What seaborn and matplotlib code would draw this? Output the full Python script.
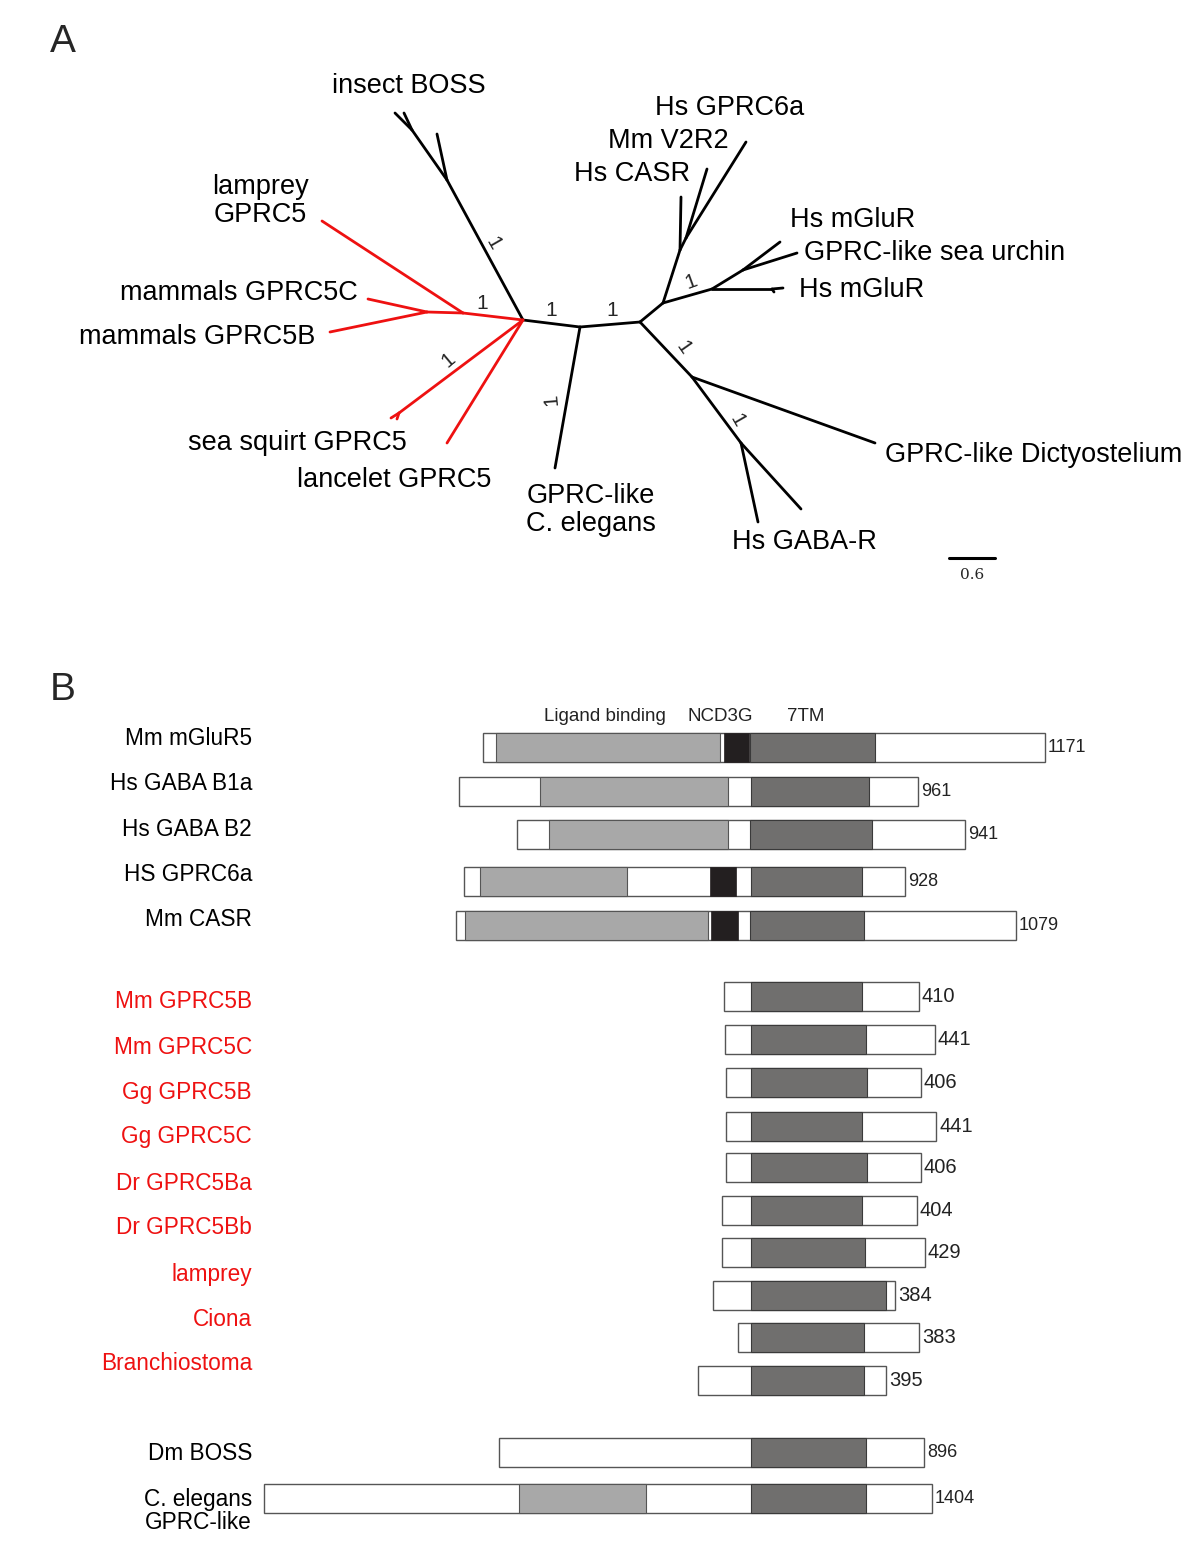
import pandas as pd
import seaborn as sns
import matplotlib
matplotlib.use("Agg")
import matplotlib.pyplot as plt

sns.set_theme(style="white")
plt.rcParams['font.family'] = ['Liberation Sans', 'DejaVu Sans']

RED = "#ee1111"
LIGHT = "#a8a8a8"
DARK = "#706f6e"
NCD = "#231f20"

# ---------------- panel A: tree layout (schematic units) ----------------
node_names = ["c0", "boss1", "boss2", "t_boss1", "t_boss2", "t_boss3",
              "r1", "r2", "t_lamprey", "t_5c", "t_5b",
              "t_squirt", "sq_a", "sq_b", "t_lancelet",
              "b1", "t_cel", "b2",
              "g1", "t_dicty", "g2", "t_gaba1", "t_gaba2",
              "m1", "m2", "t_casr", "m3", "t_v2r2", "t_6a",
              "m4", "m6", "t_mglu_low", "t_mglu_low2", "m5", "t_mglu_up", "t_urchin"]
node_x = [523, 447, 412, 395, 404, 437,
          463, 427, 322, 368, 330,
          399, 391, 397, 447,
          580, 555, 640,
          692, 875, 741, 758, 801,
          663, 680, 681, 686, 707, 746,
          712, 772, 783, 774, 743, 780, 797]
node_y = [320, 180, 130, 113, 113, 134,
          313, 312, 221, 299, 332,
          413, 418, 419, 443,
          327, 468, 322,
          377, 443, 443, 522, 509,
          303, 250, 197, 238, 169, 142,
          289, 289, 288, 292, 270, 242, 253]

edges = [("c0", "boss1"), ("boss1", "boss2"), ("boss2", "t_boss1"), ("boss2", "t_boss2"),
         ("boss1", "t_boss3"),
         ("c0", "r1"), ("r1", "r2"), ("r1", "t_lamprey"), ("r2", "t_5c"), ("r2", "t_5b"),
         ("c0", "t_squirt"), ("t_squirt", "sq_a"), ("t_squirt", "sq_b"), ("c0", "t_lancelet"),
         ("c0", "b1"), ("b1", "t_cel"), ("b1", "b2"),
         ("b2", "g1"), ("g1", "t_dicty"), ("g1", "g2"), ("g2", "t_gaba1"), ("g2", "t_gaba2"),
         ("b2", "m1"), ("m1", "m2"), ("m2", "t_casr"), ("m2", "m3"), ("m3", "t_v2r2"),
         ("m3", "t_6a"), ("m1", "m4"), ("m4", "m6"), ("m6", "t_mglu_low"),
         ("m6", "t_mglu_low2"), ("m4", "m5"), ("m5", "t_mglu_up"), ("m5", "t_urchin")]
red_nodes = ["r1", "r2", "t_lamprey", "t_5c", "t_5b", "t_squirt", "sq_a", "sq_b", "t_lancelet"]

tree_labels = ["insect BOSS", "lamprey\nGPRC5", "mammals GPRC5C", "mammals GPRC5B",
               "sea squirt GPRC5", "lancelet GPRC5", "GPRC-like\nC. elegans", "Hs GABA-R",
               "GPRC-like Dictyostelium", "Hs GPRC6a", "Mm V2R2", "Hs CASR", "Hs mGluR",
               "GPRC-like sea urchin", "Hs mGluR"]
tree_label_x = [409, 260, 358, 315, 407, 491, 591, 804, 885, 730, 668, 690, 790, 804, 799]
tree_label_y = [86, 201, 293, 337, 443, 480, 510, 542, 455, 108, 141, 174, 220, 253, 290]
tree_label_ha = ["center", "center", "right", "right", "right", "right", "center", "center",
                 "left", "center", "center", "right", "left", "left", "left"]

support_x = [493, 482, 551, 612, 448, 551, 683, 737, 691]
support_y = [243, 303, 310, 310, 360, 400, 348, 420, 282]
support_rot = [-60, 0, 0, 0, 40, 95, -55, -60, 20]

# ---------------- panel B: domain architecture (schematic units) ----------------
prot_names = ["Mm mGluR5", "Hs GABA B1a", "Hs GABA B2", "HS GPRC6a", "Mm CASR",
              "Mm GPRC5B", "Mm GPRC5C", "Gg GPRC5B", "Gg GPRC5C", "Dr GPRC5Ba",
              "Dr GPRC5Bb", "lamprey", "Ciona", "Branchiostoma",
              "Dm BOSS", "C. elegans\nGPRC-like"]
prot_label_y = [738, 783, 829, 874, 919,
                1001, 1047, 1092, 1137, 1183, 1228, 1274, 1319, 1364,
                1454, 1511]
prot_red = [False] * 5 + [True] * 9 + [False] * 2

bar_top = [733, 777, 820, 867, 911,
           982, 1025, 1068, 1112, 1153, 1196, 1238, 1281, 1323, 1366,
           1438, 1484]
bar_start = [483, 459, 517, 464, 456,
             724, 725, 726, 726, 726, 722, 722, 713, 738, 698,
             499, 264]
bar_end = [1045, 918, 965, 905, 1016,
           919, 935, 921, 936, 921, 917, 925, 895, 919, 886,
           924, 932]
lig_start = [496, 540, 549, 480, 465] + [None] * 10 + [None, 519]
lig_end = [720, 728, 728, 627, 708] + [None] * 10 + [None, 646]
ncd_start = [724, None, None, 710, 711] + [None] * 12
ncd_end = [749, None, None, 736, 738] + [None] * 12
tm_start = [750, 751, 750, 751, 750] + [751] * 10 + [751, 751]
tm_end = [875, 869, 872, 862, 864,
          862, 866, 867, 862, 867, 862, 865, 886, 864, 864,
          866, 866]
prot_len = [1171, 961, 941, 928, 1079,
            410, 441, 406, 441, 406, 404, 429, 384, 383, 395,
            896, 1404]
bar_h = 29

header_text = ["Ligand binding", "NCD3G", "7TM"]
header_x = [605, 720, 806]

# ---------------- draw ----------------
fig = plt.figure(figsize=(12, 15.56), dpi=100)
ax = fig.add_axes([0, 0, 1, 1])

pos = dict(zip(node_names, zip(node_x, node_y)))
rows = []
for i, (a, b) in enumerate(edges):
    clade = "red" if b in red_nodes else "black"
    for n in (a, b):
        rows.append({"edge": i, "x": pos[n][0], "y": pos[n][1], "clade": clade})
edge_df = pd.DataFrame(rows)
sns.lineplot(data=edge_df, x="x", y="y", units="edge", estimator=None, hue="clade",
             palette={"red": RED, "black": "black"}, sort=False, legend=False,
             linewidth=2.0, ax=ax)

for t, x, y, ha in zip(tree_labels, tree_label_x, tree_label_y, tree_label_ha):
    ax.text(x, y, t, ha=ha, va="center", fontsize=19.5, color="black",
            linespacing=1.1, multialignment="center")

for x, y, r in zip(support_x, support_y, support_rot):
    ax.text(x, y, "1", ha="center", va="center", fontsize=15, rotation=r)

# scale bar
ax.plot([949, 995], [558, 558], color="black", lw=2.2)
ax.text(972, 575, "0.6", ha="center", va="center", fontsize=11, family="DejaVu Serif")

ax.text(50, 42, "A", fontsize=28, ha="left", va="center")
ax.text(50, 690, "B", fontsize=28, ha="left", va="center")

for t, x in zip(header_text, header_x):
    ax.text(x, 716, t, ha="center", va="center", fontsize=13.5, color="#222222")

for i in range(len(bar_top)):
    yc = bar_top[i] + bar_h / 2
    ax.barh(yc, bar_end[i] - bar_start[i], left=bar_start[i], height=bar_h,
            color="white", edgecolor="#555555", linewidth=1.0, zorder=2)
    if lig_start[i] is not None:
        ax.barh(yc, lig_end[i] - lig_start[i], left=lig_start[i], height=bar_h,
                color=LIGHT, edgecolor="#555555", linewidth=0.8, zorder=3)
    if ncd_start[i] is not None:
        ax.barh(yc, ncd_end[i] - ncd_start[i], left=ncd_start[i], height=bar_h,
                color=NCD, edgecolor=NCD, linewidth=0.5, zorder=3)
    ax.barh(yc, tm_end[i] - tm_start[i], left=tm_start[i], height=bar_h,
            color=DARK, edgecolor="#3a3a3a", linewidth=0.8, zorder=3)
    fs = 14.5 if 5 <= i <= 14 else 13
    ax.text(bar_end[i] + 3, yc, str(prot_len[i]), ha="left", va="center",
            fontsize=fs, color="#222222")

for t, y, red in zip(prot_names, prot_label_y, prot_red):
    ax.text(252, y, t, ha="right", va="center", fontsize=16.3,
            color=RED if red else "black", linespacing=1.0, multialignment="right")

ax.set_xlim(0, 1200)
ax.set_ylim(1556, 0)
ax.axis("off")

fig.savefig("out.png", dpi=100)
